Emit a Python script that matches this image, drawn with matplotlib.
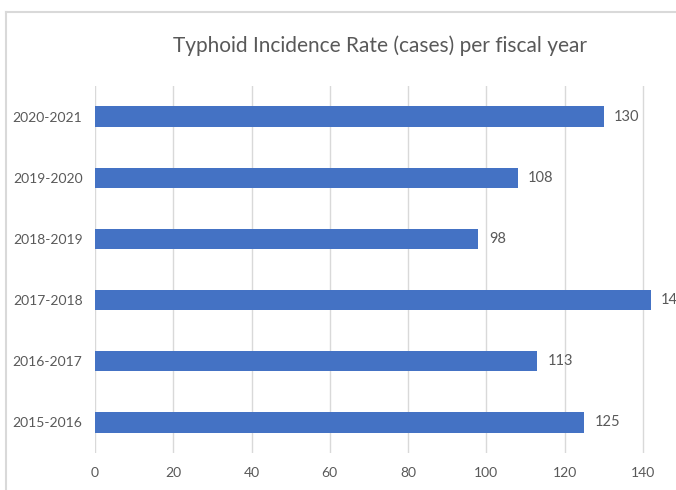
import matplotlib.pyplot as plt
from matplotlib.lines import Line2D

years = ["2015-2016", "2016-2017", "2017-2018", "2018-2019", "2019-2020", "2020-2021"]
cases = [125, 113, 142, 98, 108, 130]
x_ticks = [0, 20, 40, 60, 80, 100, 120, 140]

FONT = ["Lato", "DejaVu Sans"]
TEXT_COLOR = "#595959"
BAR_COLOR = "#4472C4"
GRID_COLOR = "#d9d9d9"

fig = plt.figure(figsize=(6.76, 4.90), dpi=100)
W, H = 676, 490

# plot area spans past the right edge of the canvas
left, right, top, bottom = 95, 721, 86, 453
ax = fig.add_axes([left / W, 1 - bottom / H, (right - left) / W, (bottom - top) / H])

ypos = list(range(len(years)))
ax.barh(ypos, cases, height=0.33, color=BAR_COLOR, zorder=3)
for y, v in zip(ypos, cases):
    ax.annotate(f"{v}", xy=(v, y), xytext=(7.5, 0), textcoords="offset points",
                ha="left", va="center", fontsize=10.5, color=TEXT_COLOR,
                family=FONT, annotation_clip=False)

ax.set_xlim(0, 160)
ax.set_ylim(-0.5, len(years) - 0.5)
ax.set_xticks(x_ticks)
ax.set_yticks(ypos)
ax.set_yticklabels(years)
ax.grid(axis="x", color=GRID_COLOR, linewidth=1, zorder=0)
ax.tick_params(axis="both", length=0, labelsize=10, labelcolor=TEXT_COLOR)
ax.tick_params(axis="x", pad=10)
ax.tick_params(axis="y", pad=9)
for lbl in ax.get_xticklabels() + ax.get_yticklabels():
    lbl.set_family(FONT)
for s in ax.spines.values():
    s.set_visible(False)

# chart frame (top and left edges)
fig.add_artist(Line2D([6 / W, 6 / W], [0, 1 - 12 / H], color=GRID_COLOR,
                      linewidth=1.5, transform=fig.transFigure))
fig.add_artist(Line2D([6 / W, 1], [1 - 12 / H, 1 - 12 / H], color=GRID_COLOR,
                      linewidth=1.5, transform=fig.transFigure))

fig.text(380 / W, 1 - 46 / H, "Typhoid Incidence Rate (cases) per fiscal year",
         ha="center", va="center", fontsize=15, color=TEXT_COLOR, family=FONT)

fig.savefig("out.png", dpi=100)
